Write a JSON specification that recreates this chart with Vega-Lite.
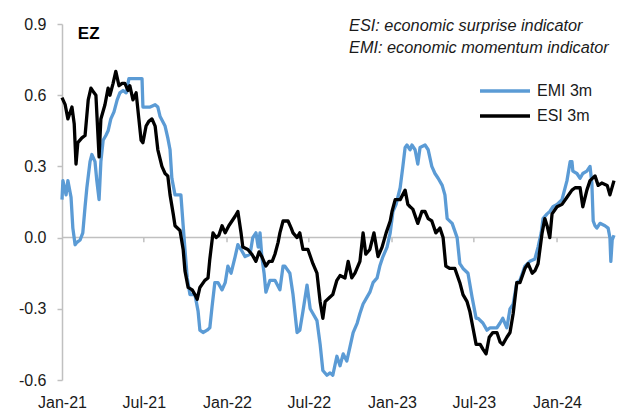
{
  "$schema": "https://vega.github.io/schema/vega-lite/v6.json",
  "width": 552,
  "height": 356,
  "autosize": "none",
  "padding": {"left": 62, "top": 24, "right": 9, "bottom": 32},
  "background": "white",
  "config": {
    "view": {"stroke": null},
    "font": "Liberation Sans",
    "locale": {"number": {"decimal": ".", "thousands": ",", "grouping": [3], "currency": ["$", ""], "minus": "-"}},
    "axis": {"labelFont": "Liberation Sans", "labelFontSize": 16, "labelColor": "#1a1a1a"},
    "legend": {"labelFont": "Liberation Sans", "labelFontSize": 16, "labelColor": "#1a1a1a"}
  },
  "datasets": {
    "lines": [
      {"d":"2021-01-01","s":"EMI 3m","v":0.16},{"d":"2021-01-03","s":"EMI 3m","v":0.24},{"d":"2021-01-10","s":"EMI 3m","v":0.18},{"d":"2021-01-14","s":"EMI 3m","v":0.24},{"d":"2021-01-21","s":"EMI 3m","v":0.17},{"d":"2021-01-25","s":"EMI 3m","v":0.04},{"d":"2021-01-30","s":"EMI 3m","v":-0.03},{"d":"2021-02-03","s":"EMI 3m","v":-0.02},{"d":"2021-02-10","s":"EMI 3m","v":-0.01},{"d":"2021-02-16","s":"EMI 3m","v":0.02},{"d":"2021-02-21","s":"EMI 3m","v":0.13},{"d":"2021-02-25","s":"EMI 3m","v":0.21},{"d":"2021-03-04","s":"EMI 3m","v":0.32},{"d":"2021-03-08","s":"EMI 3m","v":0.35},{"d":"2021-03-15","s":"EMI 3m","v":0.32},{"d":"2021-03-19","s":"EMI 3m","v":0.24},{"d":"2021-03-24","s":"EMI 3m","v":0.16},{"d":"2021-03-28","s":"EMI 3m","v":0.32},{"d":"2021-04-02","s":"EMI 3m","v":0.41},{"d":"2021-04-08","s":"EMI 3m","v":0.43},{"d":"2021-04-13","s":"EMI 3m","v":0.45},{"d":"2021-04-19","s":"EMI 3m","v":0.5},{"d":"2021-04-26","s":"EMI 3m","v":0.53},{"d":"2021-05-03","s":"EMI 3m","v":0.58},{"d":"2021-05-09","s":"EMI 3m","v":0.61},{"d":"2021-05-16","s":"EMI 3m","v":0.62},{"d":"2021-05-23","s":"EMI 3m","v":0.61},{"d":"2021-05-29","s":"EMI 3m","v":0.67},{"d":"2021-06-05","s":"EMI 3m","v":0.67},{"d":"2021-06-16","s":"EMI 3m","v":0.67},{"d":"2021-06-27","s":"EMI 3m","v":0.67},{"d":"2021-06-29","s":"EMI 3m","v":0.55},{"d":"2021-07-15","s":"EMI 3m","v":0.55},{"d":"2021-07-26","s":"EMI 3m","v":0.56},{"d":"2021-08-01","s":"EMI 3m","v":0.55},{"d":"2021-08-06","s":"EMI 3m","v":0.51},{"d":"2021-08-17","s":"EMI 3m","v":0.47},{"d":"2021-08-23","s":"EMI 3m","v":0.42},{"d":"2021-08-28","s":"EMI 3m","v":0.37},{"d":"2021-09-01","s":"EMI 3m","v":0.25},{"d":"2021-09-08","s":"EMI 3m","v":0.18},{"d":"2021-09-21","s":"EMI 3m","v":0.18},{"d":"2021-09-26","s":"EMI 3m","v":0.05},{"d":"2021-09-30","s":"EMI 3m","v":-0.05},{"d":"2021-10-05","s":"EMI 3m","v":-0.17},{"d":"2021-10-11","s":"EMI 3m","v":-0.24},{"d":"2021-10-22","s":"EMI 3m","v":-0.24},{"d":"2021-10-29","s":"EMI 3m","v":-0.31},{"d":"2021-11-02","s":"EMI 3m","v":-0.39},{"d":"2021-11-09","s":"EMI 3m","v":-0.4},{"d":"2021-11-18","s":"EMI 3m","v":-0.39},{"d":"2021-11-24","s":"EMI 3m","v":-0.38},{"d":"2021-11-29","s":"EMI 3m","v":-0.29},{"d":"2021-12-05","s":"EMI 3m","v":-0.19},{"d":"2021-12-12","s":"EMI 3m","v":-0.19},{"d":"2021-12-21","s":"EMI 3m","v":-0.22},{"d":"2021-12-28","s":"EMI 3m","v":-0.19},{"d":"2022-01-03","s":"EMI 3m","v":-0.12},{"d":"2022-01-10","s":"EMI 3m","v":-0.15},{"d":"2022-01-19","s":"EMI 3m","v":-0.08},{"d":"2022-01-25","s":"EMI 3m","v":-0.03},{"d":"2022-02-01","s":"EMI 3m","v":-0.05},{"d":"2022-02-10","s":"EMI 3m","v":-0.08},{"d":"2022-02-21","s":"EMI 3m","v":-0.07},{"d":"2022-02-27","s":"EMI 3m","v":0.0},{"d":"2022-03-06","s":"EMI 3m","v":0.02},{"d":"2022-03-11","s":"EMI 3m","v":-0.04},{"d":"2022-03-15","s":"EMI 3m","v":0.02},{"d":"2022-03-19","s":"EMI 3m","v":-0.08},{"d":"2022-03-24","s":"EMI 3m","v":-0.15},{"d":"2022-03-28","s":"EMI 3m","v":-0.23},{"d":"2022-04-06","s":"EMI 3m","v":-0.18},{"d":"2022-04-17","s":"EMI 3m","v":-0.18},{"d":"2022-04-28","s":"EMI 3m","v":-0.22},{"d":"2022-05-05","s":"EMI 3m","v":-0.12},{"d":"2022-05-09","s":"EMI 3m","v":-0.12},{"d":"2022-05-20","s":"EMI 3m","v":-0.15},{"d":"2022-05-27","s":"EMI 3m","v":-0.24},{"d":"2022-06-05","s":"EMI 3m","v":-0.4},{"d":"2022-06-11","s":"EMI 3m","v":-0.39},{"d":"2022-06-18","s":"EMI 3m","v":-0.31},{"d":"2022-06-27","s":"EMI 3m","v":-0.2},{"d":"2022-07-04","s":"EMI 3m","v":-0.3},{"d":"2022-07-10","s":"EMI 3m","v":-0.32},{"d":"2022-07-19","s":"EMI 3m","v":-0.35},{"d":"2022-07-26","s":"EMI 3m","v":-0.45},{"d":"2022-08-01","s":"EMI 3m","v":-0.56},{"d":"2022-08-10","s":"EMI 3m","v":-0.58},{"d":"2022-08-17","s":"EMI 3m","v":-0.57},{"d":"2022-08-23","s":"EMI 3m","v":-0.58},{"d":"2022-09-01","s":"EMI 3m","v":-0.5},{"d":"2022-09-08","s":"EMI 3m","v":-0.54},{"d":"2022-09-15","s":"EMI 3m","v":-0.49},{"d":"2022-09-23","s":"EMI 3m","v":-0.52},{"d":"2022-09-30","s":"EMI 3m","v":-0.46},{"d":"2022-10-07","s":"EMI 3m","v":-0.4},{"d":"2022-10-16","s":"EMI 3m","v":-0.36},{"d":"2022-10-22","s":"EMI 3m","v":-0.32},{"d":"2022-10-29","s":"EMI 3m","v":-0.28},{"d":"2022-11-07","s":"EMI 3m","v":-0.25},{"d":"2022-11-13","s":"EMI 3m","v":-0.23},{"d":"2022-11-20","s":"EMI 3m","v":-0.19},{"d":"2022-11-29","s":"EMI 3m","v":-0.17},{"d":"2022-12-05","s":"EMI 3m","v":-0.12},{"d":"2022-12-12","s":"EMI 3m","v":-0.08},{"d":"2022-12-21","s":"EMI 3m","v":-0.04},{"d":"2022-12-28","s":"EMI 3m","v":0.02},{"d":"2023-01-03","s":"EMI 3m","v":0.11},{"d":"2023-01-10","s":"EMI 3m","v":0.14},{"d":"2023-01-19","s":"EMI 3m","v":0.21},{"d":"2023-01-25","s":"EMI 3m","v":0.3},{"d":"2023-01-30","s":"EMI 3m","v":0.38},{"d":"2023-02-03","s":"EMI 3m","v":0.39},{"d":"2023-02-10","s":"EMI 3m","v":0.37},{"d":"2023-02-14","s":"EMI 3m","v":0.39},{"d":"2023-02-21","s":"EMI 3m","v":0.37},{"d":"2023-02-27","s":"EMI 3m","v":0.31},{"d":"2023-03-04","s":"EMI 3m","v":0.38},{"d":"2023-03-15","s":"EMI 3m","v":0.39},{"d":"2023-03-22","s":"EMI 3m","v":0.37},{"d":"2023-03-30","s":"EMI 3m","v":0.3},{"d":"2023-04-06","s":"EMI 3m","v":0.27},{"d":"2023-04-13","s":"EMI 3m","v":0.25},{"d":"2023-04-22","s":"EMI 3m","v":0.22},{"d":"2023-04-28","s":"EMI 3m","v":0.18},{"d":"2023-05-03","s":"EMI 3m","v":0.08},{"d":"2023-05-14","s":"EMI 3m","v":0.06},{"d":"2023-05-25","s":"EMI 3m","v":0.0},{"d":"2023-05-31","s":"EMI 3m","v":-0.11},{"d":"2023-06-07","s":"EMI 3m","v":-0.13},{"d":"2023-06-18","s":"EMI 3m","v":-0.15},{"d":"2023-06-27","s":"EMI 3m","v":-0.25},{"d":"2023-07-06","s":"EMI 3m","v":-0.34},{"d":"2023-07-10","s":"EMI 3m","v":-0.34},{"d":"2023-07-21","s":"EMI 3m","v":-0.36},{"d":"2023-07-30","s":"EMI 3m","v":-0.39},{"d":"2023-08-06","s":"EMI 3m","v":-0.38},{"d":"2023-08-12","s":"EMI 3m","v":-0.38},{"d":"2023-08-21","s":"EMI 3m","v":-0.38},{"d":"2023-08-28","s":"EMI 3m","v":-0.36},{"d":"2023-09-03","s":"EMI 3m","v":-0.34},{"d":"2023-09-12","s":"EMI 3m","v":-0.38},{"d":"2023-09-19","s":"EMI 3m","v":-0.3},{"d":"2023-09-26","s":"EMI 3m","v":-0.28},{"d":"2023-10-04","s":"EMI 3m","v":-0.19},{"d":"2023-10-11","s":"EMI 3m","v":-0.18},{"d":"2023-10-22","s":"EMI 3m","v":-0.12},{"d":"2023-11-02","s":"EMI 3m","v":-0.1},{"d":"2023-11-13","s":"EMI 3m","v":-0.09},{"d":"2023-11-20","s":"EMI 3m","v":-0.04},{"d":"2023-11-27","s":"EMI 3m","v":0.02},{"d":"2023-12-01","s":"EMI 3m","v":0.08},{"d":"2023-12-10","s":"EMI 3m","v":0.1},{"d":"2023-12-16","s":"EMI 3m","v":0.11},{"d":"2023-12-23","s":"EMI 3m","v":0.13},{"d":"2024-01-01","s":"EMI 3m","v":0.14},{"d":"2024-01-12","s":"EMI 3m","v":0.16},{"d":"2024-01-23","s":"EMI 3m","v":0.24},{"d":"2024-01-30","s":"EMI 3m","v":0.32},{"d":"2024-02-03","s":"EMI 3m","v":0.32},{"d":"2024-02-05","s":"EMI 3m","v":0.28},{"d":"2024-02-14","s":"EMI 3m","v":0.27},{"d":"2024-02-21","s":"EMI 3m","v":0.25},{"d":"2024-02-27","s":"EMI 3m","v":0.27},{"d":"2024-03-07","s":"EMI 3m","v":0.28},{"d":"2024-03-14","s":"EMI 3m","v":0.3},{"d":"2024-03-18","s":"EMI 3m","v":0.23},{"d":"2024-03-21","s":"EMI 3m","v":0.07},{"d":"2024-03-25","s":"EMI 3m","v":0.05},{"d":"2024-03-29","s":"EMI 3m","v":0.04},{"d":"2024-04-05","s":"EMI 3m","v":0.06},{"d":"2024-04-16","s":"EMI 3m","v":0.05},{"d":"2024-04-23","s":"EMI 3m","v":0.04},{"d":"2024-04-27","s":"EMI 3m","v":0.0},{"d":"2024-04-29","s":"EMI 3m","v":-0.1},{"d":"2024-05-02","s":"EMI 3m","v":-0.01},{"d":"2024-05-06","s":"EMI 3m","v":0.01},
      {"d":"2021-01-01","s":"ESI 3m","v":0.59},{"d":"2021-01-08","s":"ESI 3m","v":0.56},{"d":"2021-01-14","s":"ESI 3m","v":0.5},{"d":"2021-01-23","s":"ESI 3m","v":0.55},{"d":"2021-01-28","s":"ESI 3m","v":0.48},{"d":"2021-02-01","s":"ESI 3m","v":0.31},{"d":"2021-02-05","s":"ESI 3m","v":0.4},{"d":"2021-02-14","s":"ESI 3m","v":0.42},{"d":"2021-02-21","s":"ESI 3m","v":0.43},{"d":"2021-02-28","s":"ESI 3m","v":0.58},{"d":"2021-03-06","s":"ESI 3m","v":0.63},{"d":"2021-03-13","s":"ESI 3m","v":0.61},{"d":"2021-03-17","s":"ESI 3m","v":0.6},{"d":"2021-03-24","s":"ESI 3m","v":0.34},{"d":"2021-03-28","s":"ESI 3m","v":0.5},{"d":"2021-04-06","s":"ESI 3m","v":0.56},{"d":"2021-04-13","s":"ESI 3m","v":0.63},{"d":"2021-04-17","s":"ESI 3m","v":0.6},{"d":"2021-04-24","s":"ESI 3m","v":0.65},{"d":"2021-04-30","s":"ESI 3m","v":0.7},{"d":"2021-05-07","s":"ESI 3m","v":0.64},{"d":"2021-05-14","s":"ESI 3m","v":0.65},{"d":"2021-05-20","s":"ESI 3m","v":0.65},{"d":"2021-05-27","s":"ESI 3m","v":0.62},{"d":"2021-05-31","s":"ESI 3m","v":0.64},{"d":"2021-06-07","s":"ESI 3m","v":0.58},{"d":"2021-06-14","s":"ESI 3m","v":0.61},{"d":"2021-06-20","s":"ESI 3m","v":0.5},{"d":"2021-06-25","s":"ESI 3m","v":0.41},{"d":"2021-06-29","s":"ESI 3m","v":0.4},{"d":"2021-07-06","s":"ESI 3m","v":0.47},{"d":"2021-07-12","s":"ESI 3m","v":0.49},{"d":"2021-07-19","s":"ESI 3m","v":0.5},{"d":"2021-07-26","s":"ESI 3m","v":0.47},{"d":"2021-08-01","s":"ESI 3m","v":0.37},{"d":"2021-08-10","s":"ESI 3m","v":0.3},{"d":"2021-08-17","s":"ESI 3m","v":0.27},{"d":"2021-08-23","s":"ESI 3m","v":0.26},{"d":"2021-08-28","s":"ESI 3m","v":0.18},{"d":"2021-09-04","s":"ESI 3m","v":0.1},{"d":"2021-09-08","s":"ESI 3m","v":0.05},{"d":"2021-09-19","s":"ESI 3m","v":0.03},{"d":"2021-09-26","s":"ESI 3m","v":-0.05},{"d":"2021-09-30","s":"ESI 3m","v":-0.14},{"d":"2021-10-07","s":"ESI 3m","v":-0.21},{"d":"2021-10-16","s":"ESI 3m","v":-0.22},{"d":"2021-10-22","s":"ESI 3m","v":-0.24},{"d":"2021-10-27","s":"ESI 3m","v":-0.26},{"d":"2021-11-02","s":"ESI 3m","v":-0.21},{"d":"2021-11-13","s":"ESI 3m","v":-0.18},{"d":"2021-11-20","s":"ESI 3m","v":-0.17},{"d":"2021-11-24","s":"ESI 3m","v":-0.09},{"d":"2021-12-01","s":"ESI 3m","v":0.02},{"d":"2021-12-08","s":"ESI 3m","v":0.0},{"d":"2021-12-14","s":"ESI 3m","v":0.01},{"d":"2021-12-21","s":"ESI 3m","v":0.05},{"d":"2021-12-28","s":"ESI 3m","v":0.02},{"d":"2022-01-05","s":"ESI 3m","v":0.05},{"d":"2022-01-12","s":"ESI 3m","v":0.07},{"d":"2022-01-19","s":"ESI 3m","v":0.09},{"d":"2022-01-25","s":"ESI 3m","v":0.11},{"d":"2022-02-01","s":"ESI 3m","v":0.02},{"d":"2022-02-05","s":"ESI 3m","v":-0.04},{"d":"2022-02-16","s":"ESI 3m","v":-0.05},{"d":"2022-02-25","s":"ESI 3m","v":-0.07},{"d":"2022-03-06","s":"ESI 3m","v":-0.1},{"d":"2022-03-13","s":"ESI 3m","v":-0.06},{"d":"2022-03-19","s":"ESI 3m","v":-0.08},{"d":"2022-03-28","s":"ESI 3m","v":-0.12},{"d":"2022-04-04","s":"ESI 3m","v":-0.1},{"d":"2022-04-11","s":"ESI 3m","v":-0.1},{"d":"2022-04-17","s":"ESI 3m","v":-0.07},{"d":"2022-04-24","s":"ESI 3m","v":-0.02},{"d":"2022-04-28","s":"ESI 3m","v":0.02},{"d":"2022-05-05","s":"ESI 3m","v":0.07},{"d":"2022-05-16","s":"ESI 3m","v":0.07},{"d":"2022-05-23","s":"ESI 3m","v":0.04},{"d":"2022-05-27","s":"ESI 3m","v":0.02},{"d":"2022-06-05","s":"ESI 3m","v":0.0},{"d":"2022-06-11","s":"ESI 3m","v":0.02},{"d":"2022-06-18","s":"ESI 3m","v":-0.05},{"d":"2022-06-29","s":"ESI 3m","v":-0.05},{"d":"2022-07-10","s":"ESI 3m","v":-0.11},{"d":"2022-07-19","s":"ESI 3m","v":-0.15},{"d":"2022-07-26","s":"ESI 3m","v":-0.27},{"d":"2022-08-01","s":"ESI 3m","v":-0.34},{"d":"2022-08-06","s":"ESI 3m","v":-0.27},{"d":"2022-08-17","s":"ESI 3m","v":-0.25},{"d":"2022-08-23","s":"ESI 3m","v":-0.24},{"d":"2022-09-01","s":"ESI 3m","v":-0.18},{"d":"2022-09-08","s":"ESI 3m","v":-0.16},{"d":"2022-09-19","s":"ESI 3m","v":-0.17},{"d":"2022-09-26","s":"ESI 3m","v":-0.1},{"d":"2022-10-04","s":"ESI 3m","v":-0.17},{"d":"2022-10-11","s":"ESI 3m","v":-0.15},{"d":"2022-10-22","s":"ESI 3m","v":-0.1},{"d":"2022-10-29","s":"ESI 3m","v":0.02},{"d":"2022-11-04","s":"ESI 3m","v":-0.07},{"d":"2022-11-13","s":"ESI 3m","v":-0.05},{"d":"2022-11-22","s":"ESI 3m","v":0.02},{"d":"2022-12-01","s":"ESI 3m","v":-0.08},{"d":"2022-12-10","s":"ESI 3m","v":-0.04},{"d":"2022-12-19","s":"ESI 3m","v":0.02},{"d":"2022-12-28","s":"ESI 3m","v":0.07},{"d":"2023-01-01","s":"ESI 3m","v":0.11},{"d":"2023-01-08","s":"ESI 3m","v":0.16},{"d":"2023-01-19","s":"ESI 3m","v":0.16},{"d":"2023-01-30","s":"ESI 3m","v":0.2},{"d":"2023-02-05","s":"ESI 3m","v":0.14},{"d":"2023-02-10","s":"ESI 3m","v":0.13},{"d":"2023-02-16","s":"ESI 3m","v":0.12},{"d":"2023-02-27","s":"ESI 3m","v":0.06},{"d":"2023-03-08","s":"ESI 3m","v":0.11},{"d":"2023-03-15","s":"ESI 3m","v":0.11},{"d":"2023-03-22","s":"ESI 3m","v":0.08},{"d":"2023-03-30","s":"ESI 3m","v":0.07},{"d":"2023-04-08","s":"ESI 3m","v":0.02},{"d":"2023-04-17","s":"ESI 3m","v":0.04},{"d":"2023-04-24","s":"ESI 3m","v":0.0},{"d":"2023-04-30","s":"ESI 3m","v":-0.12},{"d":"2023-05-09","s":"ESI 3m","v":-0.13},{"d":"2023-05-20","s":"ESI 3m","v":-0.13},{"d":"2023-05-31","s":"ESI 3m","v":-0.19},{"d":"2023-06-07","s":"ESI 3m","v":-0.24},{"d":"2023-06-16","s":"ESI 3m","v":-0.27},{"d":"2023-06-22","s":"ESI 3m","v":-0.31},{"d":"2023-06-29","s":"ESI 3m","v":-0.38},{"d":"2023-07-06","s":"ESI 3m","v":-0.45},{"d":"2023-07-15","s":"ESI 3m","v":-0.45},{"d":"2023-07-21","s":"ESI 3m","v":-0.47},{"d":"2023-07-28","s":"ESI 3m","v":-0.49},{"d":"2023-08-04","s":"ESI 3m","v":-0.42},{"d":"2023-08-12","s":"ESI 3m","v":-0.4},{"d":"2023-08-21","s":"ESI 3m","v":-0.4},{"d":"2023-08-28","s":"ESI 3m","v":-0.44},{"d":"2023-09-03","s":"ESI 3m","v":-0.45},{"d":"2023-09-12","s":"ESI 3m","v":-0.42},{"d":"2023-09-19","s":"ESI 3m","v":-0.4},{"d":"2023-09-26","s":"ESI 3m","v":-0.32},{"d":"2023-10-04","s":"ESI 3m","v":-0.19},{"d":"2023-10-11","s":"ESI 3m","v":-0.19},{"d":"2023-10-22","s":"ESI 3m","v":-0.13},{"d":"2023-10-29","s":"ESI 3m","v":-0.11},{"d":"2023-11-07","s":"ESI 3m","v":-0.15},{"d":"2023-11-13","s":"ESI 3m","v":-0.14},{"d":"2023-11-20","s":"ESI 3m","v":-0.11},{"d":"2023-11-29","s":"ESI 3m","v":0.02},{"d":"2023-12-05","s":"ESI 3m","v":0.08},{"d":"2023-12-10","s":"ESI 3m","v":0.05},{"d":"2023-12-16","s":"ESI 3m","v":0.0},{"d":"2023-12-21","s":"ESI 3m","v":0.1},{"d":"2024-01-01","s":"ESI 3m","v":0.13},{"d":"2024-01-12","s":"ESI 3m","v":0.14},{"d":"2024-01-23","s":"ESI 3m","v":0.17},{"d":"2024-02-03","s":"ESI 3m","v":0.2},{"d":"2024-02-10","s":"ESI 3m","v":0.21},{"d":"2024-02-21","s":"ESI 3m","v":0.21},{"d":"2024-02-27","s":"ESI 3m","v":0.13},{"d":"2024-03-07","s":"ESI 3m","v":0.2},{"d":"2024-03-14","s":"ESI 3m","v":0.24},{"d":"2024-03-25","s":"ESI 3m","v":0.26},{"d":"2024-04-01","s":"ESI 3m","v":0.22},{"d":"2024-04-09","s":"ESI 3m","v":0.23},{"d":"2024-04-21","s":"ESI 3m","v":0.22},{"d":"2024-04-27","s":"ESI 3m","v":0.18},{"d":"2024-05-06","s":"ESI 3m","v":0.24}
    ],
    "ticks": [{"d":"2021-07-01"},{"d":"2022-01-01"},{"d":"2022-07-01"},{"d":"2023-01-01"},{"d":"2023-07-01"},{"d":"2024-01-01"}],
    "one": [{}]
  },
  "data": {"name": "lines"},
  "layer": [
    {
      "data": {"name": "one"},
      "mark": {"type": "rule", "color": "#c0c0c0", "strokeWidth": 1.5},
      "encoding": {"y": {"datum": 0, "type": "quantitative"}}
    },
    {
      "data": {"name": "ticks"},
      "mark": {"type": "rule", "color": "#c0c0c0", "strokeWidth": 1.5},
      "encoding": {
        "x": {"field": "d", "type": "temporal"},
        "y": {"datum": 0, "type": "quantitative"},
        "y2": {"datum": -0.02}
      }
    },
    {
      "mark": {"type": "line", "strokeWidth": 3.3, "strokeJoin": "round"},
      "encoding": {
        "x": {
          "field": "d", "type": "temporal",
          "scale": {"domain": ["2021-01-01", "2024-05-06"]},
          "axis": {"title": null, "format": "%b-%y", "tickCount": {"interval": "month", "step": 6}, "domain": false, "ticks": false, "grid": false, "labelPadding": 14, "labelFlush": false, "labelOverlap": false}
        },
        "y": {
          "field": "v", "type": "quantitative",
          "scale": {"domain": [-0.6, 0.9], "nice": false, "zero": false},
          "axis": {"title": null, "values": [-0.6, -0.3, 0, 0.3, 0.6, 0.9], "format": ".1f", "grid": false, "domainColor": "#c0c0c0", "domainWidth": 1.5, "tickColor": "#c0c0c0", "tickWidth": 1.5, "tickSize": 5, "labelPadding": 11}
        },
        "color": {
          "field": "s", "type": "nominal", "sort": null,
          "scale": {"domain": ["EMI 3m", "ESI 3m"], "range": ["#5b9bd5", "#000000"]},
          "legend": {"title": null, "orient": "none", "legendX": 435, "legendY": 59, "symbolType": "M-5,0H5", "symbolSize": 100, "symbolStrokeWidth": 3.3, "rowPadding": 9, "labelOffset": 24, "padding": 0}
        }
      }
    },
    {
      "data": {"name": "one"},
      "mark": {"type": "text", "text": "EZ", "font": "Liberation Sans", "fontSize": 17, "fontWeight": "bold", "align": "left", "baseline": "middle", "color": "#000000"},
      "encoding": {"x": {"datum": {"year": 2021, "month": 2, "date": 5}, "type": "temporal"}, "y": {"datum": 0.858, "type": "quantitative"}}
    },
    {
      "data": {"name": "one"},
      "mark": {"type": "text", "text": "ESI: economic surprise indicator", "font": "Liberation Sans", "fontSize": 16.3, "fontStyle": "italic", "align": "left", "baseline": "middle", "color": "#1a1a1a"},
      "encoding": {"x": {"datum": {"year": 2022, "month": 9, "date": 28}, "type": "temporal"}, "y": {"datum": 0.893, "type": "quantitative"}}
    },
    {
      "data": {"name": "one"},
      "mark": {"type": "text", "text": "EMI: economic momentum indicator", "font": "Liberation Sans", "fontSize": 16.3, "fontStyle": "italic", "align": "left", "baseline": "middle", "color": "#1a1a1a"},
      "encoding": {"x": {"datum": {"year": 2022, "month": 9, "date": 28}, "type": "temporal"}, "y": {"datum": 0.8, "type": "quantitative"}}
    }
  ]
}
